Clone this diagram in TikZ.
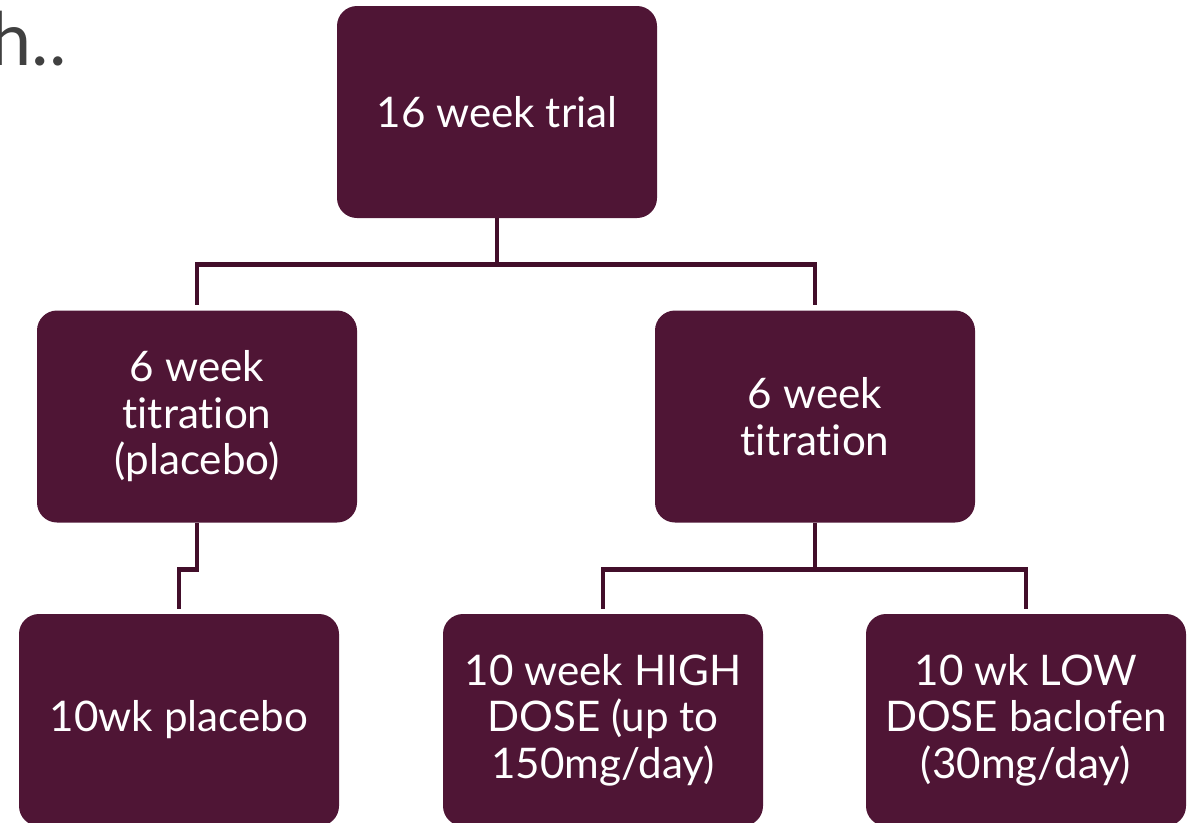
\documentclass[tikz,border=0pt]{standalone}
\usepackage{fontspec}
\setmainfont{Lato}[Ligatures=NoCommon]
\definecolor{maroon}{RGB}{79,21,53}
\definecolor{darkline}{RGB}{66,14,42}
\definecolor{slidegrey}{RGB}{64,64,64}
\begin{document}
\begin{tikzpicture}[stage/.style={rectangle, rounded corners=0.4cm, fill=maroon, text=white, minimum width=6.4cm, minimum height=4.24cm, align=center, font=\fontsize{24}{26.5}\selectfont}]
      \useasboundingbox (0,0) rectangle (23.94,-16.44);
      \node (0) at (1.22,-1.30) [anchor=base east, text=slidegrey, font=\fontsize{42}{46}\selectfont, inner sep=0pt, xshift=0.12cm] {h..};
      \node (1) at (9.94,-2.24) [stage] {16 week trial};
      \node (2) at (3.94,-8.33) [stage] {6 week\\titration\\(placebo)};
      \node (3) at (16.30,-8.33) [stage] {6 week\\titration};
      \node (4) at (3.58,-14.40) [stage] {10wk placebo};
      \node (5) at (12.06,-14.40) [stage] {10 week HIGH\\DOSE (up to\\150mg/day)};
      \node (6) at (20.52,-14.40) [stage] {10 wk LOW\\DOSE baclofen\\(30mg/day)};
      \foreach \source/\dest in {1/2, 1/3, 2/4, 3/5, 3/6}
        \draw[darkline, line width=2.8pt, shorten >=0.1cm] (\source.south) -- ++(0,-0.93) -| (\dest.north);
    \end{tikzpicture}
\end{document}
